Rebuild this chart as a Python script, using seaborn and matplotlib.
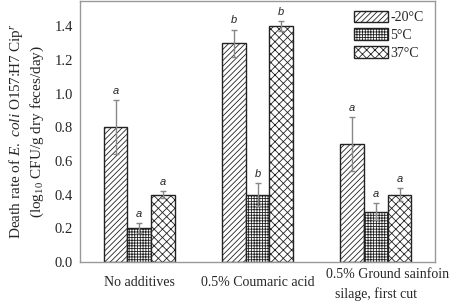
import matplotlib
matplotlib.use("Agg")
import matplotlib.pyplot as plt
import matplotlib.patches as mpatches
import matplotlib.transforms as mtransforms
import seaborn as sns
import pandas as pd

# Data
treatments = ["No additives", "0.5% Coumaric acid", "0.5% Ground sainfoin\nsilage, first cut"]
temps = ["-20°C", "5°C", "37°C"]
rate_m20 = [0.80, 1.30, 0.70]
rate_5 = [0.20, 0.40, 0.30]
rate_37 = [0.40, 1.40, 0.40]
err_m20 = [0.16, 0.08, 0.16]
err_5 = [0.03, 0.07, 0.05]
err_37 = [0.02, 0.03, 0.04]
letters_m20 = ["a", "b", "a"]
letters_5 = ["a", "b", "a"]
letters_37 = ["a", "b", "a"]

rows = []
for t, vals, errs, lets in zip(temps, [rate_m20, rate_5, rate_37],
                               [err_m20, err_5, err_37],
                               [letters_m20, letters_5, letters_37]):
    for tr, v, e, l in zip(treatments, vals, errs, lets):
        rows.append({"treatment": tr, "temp": t, "rate": v, "err": e, "letter": l})
df = pd.DataFrame(rows)

sns.set_style("white")
plt.rcParams["font.family"] = ["Liberation Serif", "DejaVu Serif"]
plt.rcParams["mathtext.fontset"] = "custom"
plt.rcParams["mathtext.rm"] = "Liberation Serif"
plt.rcParams["mathtext.it"] = "Liberation Serif:italic"
plt.rcParams["hatch.linewidth"] = 0.6

fig, ax = plt.subplots(figsize=(4.5, 3.04), dpi=100)
sns.barplot(data=df, x="treatment", y="rate", hue="temp", order=treatments,
            hue_order=temps, width=0.6, errorbar=None,
            palette=["white"] * 3, edgecolor="#222222", linewidth=1.0,
            ax=ax, legend=False)

hatches = ["//////", "++++++", "xxxx"]
bars = ax.patches
for i, t in enumerate(temps):
    sub = df[df["temp"] == t]
    for j, (_, r) in enumerate(sub.iterrows()):
        b = bars[i * len(treatments) + j]
        b.set_hatch(hatches[i])
        xc = b.get_x() + b.get_width() / 2
        ax.errorbar(xc, r["rate"], yerr=r["err"], color="#888888",
                    elinewidth=1.0, capsize=2.5, capthick=1.0, zorder=3)
        ax.text(xc, r["rate"] + r["err"] + 0.025, r["letter"], ha="center",
                va="bottom", fontsize=8, style="italic",
                family=["Liberation Sans", "DejaVu Sans"])

handles = [mpatches.Patch(facecolor="white", edgecolor="#222222", hatch=h, label=t)
           for h, t in zip(hatches, temps)]
ax.legend(handles=handles, loc="upper right", frameon=False, fontsize=10,
          handlelength=2.4, handleheight=0.9, handletextpad=0.2,
          labelspacing=0.3, borderaxespad=0.3, bbox_to_anchor=(0.995, 1.0))

ax.set_ylim(0, 1.55)
ax.set_xlim(-0.5, 2.5)
ax.set_yticks([0.0, 0.2, 0.4, 0.6, 0.8, 1.0, 1.2, 1.4])
ax.set_yticklabels(["0.0", "0.2", "0.4", "0.6", "0.8", "1.0", "1.2", "1.4"])
ax.set_xlabel("")
ax.set_ylabel("Death rate of $\\it{E.\\ coli}$ O157:H7 Cip$^{r}$\n(log$_{10}$ CFU/g dry feces/day)",
              fontsize=11, linespacing=1.3, labelpad=6)
for s in ax.spines.values():
    s.set_color("#999999")
    s.set_linewidth(1.0)
ax.tick_params(axis="y", direction="out", length=3, color="#999999", labelsize=10.5, pad=2)
ax.tick_params(axis="x", length=0, labelsize=10, pad=10)

# last category label: first line sits higher and to the right, second line below
first_lines = [t.split("\n")[0] for t in treatments]
ax.set_xticks(range(len(treatments)))
ax.set_xticklabels(first_lines)
lab = ax.get_xticklabels()[2]
lab.set_ha("left")
lab.set_transform(lab.get_transform() +
                  mtransforms.ScaledTranslation(-0.50, 0.08, fig.dpi_scale_trans))
ax.text(2, -0.19, treatments[2].split("\n")[1], ha="center", va="center",
        fontsize=10, transform=ax.transData, clip_on=False)

fig.subplots_adjust(left=0.178, right=0.967, top=0.997, bottom=0.138)
fig.savefig("out.png", dpi=100)
